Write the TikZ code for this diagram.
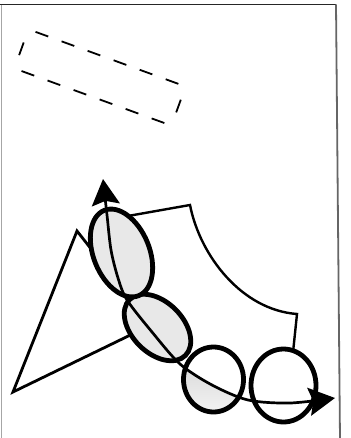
\documentclass[tikz,border=0pt]{standalone}
\usetikzlibrary{arrows.meta}
\definecolor{shade}{gray}{0.91}
\tikzset{
  framestroke/.style={line width=1.6pt, black!85},
  dashedge/.style={line width=1.8pt, dash pattern=on 13.5pt off 14.2pt},
  outline/.style={line width=2.8pt, line join=miter},
  fanline/.style={line width=2.4pt, line join=miter},
  bead/.style={line width=4.8pt},
  path line/.style={line width=2.7pt, {Stealth[length=26pt,width=28pt,inset=4pt]}-{Stealth[length=26pt,width=28pt,inset=4pt]}},
}
\begin{document}
\begin{tikzpicture}[x=1pt,y=-1pt]
\useasboundingbox (0,0) rectangle (350,438);
% frame
\draw[framestroke] (0,4.5) -- (336,4.5);
\draw[line width=1.8pt, black!60] (336,4.5) -- (340,440);
\draw[line width=1pt, black!35] (1,5) -- (1,440);

% dashed rectangle (rotated)
\coordinate (TL) at (28.5,29.3);
\coordinate (TR) at (185.6,86.5);
\coordinate (BR) at (171.4,125.6);
\coordinate (BL) at (14.3,68.4);
\draw[dashedge, dash phase=20.2pt] (TL) -- (TR);
\draw[dashedge, dash phase=13.65pt] (TR) -- (BR);
\draw[dashedge, dash phase=20.2pt] (BR) -- (BL);
\draw[dashedge, dash phase=13.65pt] (BL) -- (TL);

% triangle
\coordinate (A) at (13,392);
\coordinate (B) at (77,231);
\coordinate (Cc) at (151,325);
\draw[outline] (A) -- (B) -- (Cc) -- cycle;

% fan shape
\coordinate (F0) at (120,217.4);
\coordinate (F1) at (190,205);
\coordinate (F2) at (297,314);
\coordinate (F3) at (292,362);
\draw[fanline] (F0) -- (F1) .. controls (200,256) and (242,310) .. (F2) -- (F3);

% circle 4
\coordinate (C4) at (283.5,385.5);
\filldraw[bead, fill=white] (C4) ellipse [x radius=32.5pt, y radius=36.5pt];

% circle 3 with shaded part below the curve
\coordinate (C3) at (213.5,379.5);
\fill[white] (C3) ellipse [x radius=30pt, y radius=32.5pt];
\begin{scope}
  \clip (C3) ellipse [x radius=30pt, y radius=32.5pt];
  \fill[shade] plot[smooth] coordinates {(103.5,180) (107,215) (111,250) (118,278) (127,300) (152,332) (180,364) (212,385) (248,400) (290,403) (334,398)} -- (350,438) -- (0,438) -- (0,180) -- cycle;
\end{scope}
\draw[bead] (C3) ellipse [x radius=30pt, y radius=32.5pt];

% ellipse 2
\coordinate (E2) at (157.5,327.5);
\filldraw[bead, fill=shade, rotate around={45:(E2)}] (E2) ellipse [x radius=25.5pt, y radius=39.5pt];

% ellipse 1
\coordinate (E1) at (121.5,253);
\filldraw[bead, fill=shade, rotate around={22:(E1)}] (E1) ellipse [x radius=28pt, y radius=46pt];

% curved double arrow
\coordinate (P0) at (103,179);
\coordinate (P1) at (335,398);
\draw[path line] plot[smooth] coordinates {(P0) (107,215) (111,250) (118,278) (127,300) (152,332) (180,364) (212,385) (248,400) (290,403) (P1)};
\end{tikzpicture}
\end{document}
